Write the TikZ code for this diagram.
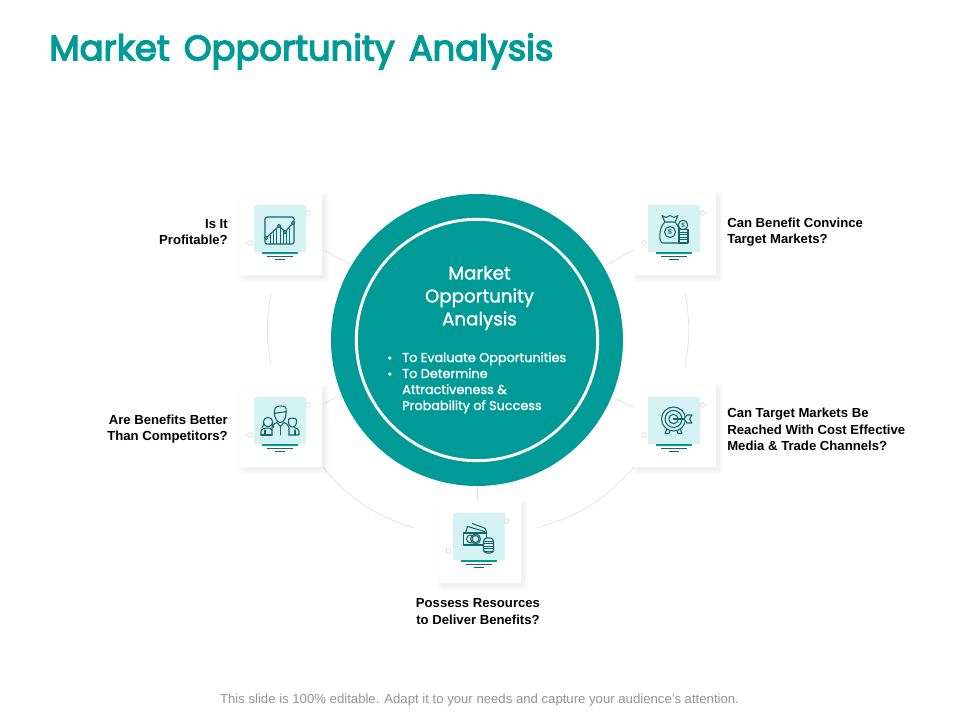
\documentclass[tikz,border=0pt]{standalone}
\usepackage{fontspec}
\setmainfont{Liberation Sans}
\newfontfamily\titlefont[FakeBold=4, WordSpace=1.5]{Poppins}
\newfontfamily\headfont[FakeBold=1.5]{Poppins}
\newfontfamily\pointfont[FakeBold=1.5]{Poppins}
\usetikzlibrary{positioning}

\definecolor{tealmain}{HTML}{009A97}
\definecolor{tealdark}{HTML}{14666A}
\definecolor{tealpale}{HTML}{D5F3F4}
\definecolor{linegrey}{HTML}{E2E4E4}
\tikzset{
    card/.style={fill=white, minimum width=61.5pt, minimum height=61.5pt, inner sep=0pt},
    cardshade/.style={fill=black, opacity=.01, rounded corners=2pt},
    tile/.style={fill=tealpale, minimum width=39pt, minimum height=35pt, inner sep=0pt},
    question/.style={font=\bfseries\fontsize{9.85pt}{12.2pt}\selectfont, inner sep=0pt},
    link/.style={draw=linegrey, line width=.6pt},
    dot/.style={draw=black!18, fill=white, circle, minimum size=3.6pt, inner sep=0pt},
    glyph/.style={draw=tealdark, line width=.8pt, line join=round, line cap=round},
}
% three rules under each icon tile
\newcommand{\tilerules}{%
    \draw[tealmain, line width=1.2pt] (-18,24.5) -- (18,24.5);
    \draw[tealdark, line width=.6pt] (-13,28) -- (13,28);
    \draw[tealdark, line width=.9pt] (-5,31) -- (5,31);
}

\begin{document}
\begin{tikzpicture}[x=.75pt, y=-.75pt]
    \useasboundingbox (0,0) rectangle (960,720);

    \node[anchor=west, inner sep=0pt, text=tealmain, font=\titlefont\fontsize{26.5pt}{30pt}\selectfont] (title) at (49,51.5) {Market Opportunity Analysis};

    % arcs and spokes go under everything else
    \coordinate (hub) at (477,340);
    \coordinate (arcA) at (271,293);
    \coordinate (arcB) at (271,365);
    \coordinate (arcC) at (685,293);
    \coordinate (arcD) at (685,367);
    \coordinate (arcE) at (323,467);
    \coordinate (arcF) at (414,528);
    \coordinate (arcG) at (634,467);
    \coordinate (arcH) at (537,528);
    \coordinate (spokeA) at (323,250);
    \coordinate (spokeB) at (633,250);
    \coordinate (spokeC) at (323,404);
    \coordinate (spokeD) at (634,407);
    \draw[link] (arcA) to[bend right=10] (arcB);
    \draw[link] (arcC) to[bend left=10] (arcD);
    \draw[link] (arcE) to[bend right=16] (arcF);
    \draw[link] (arcG) to[bend left=16] (arcH);

    \foreach \name/\x/\y in {profit/281/234, convince/675/234, better/281/426, reach/675/426, resource/479.5/542} {
        \foreach \s in {0,1,...,4} {
            \fill[cardshade] (\x-41-\s+3,\y-41-\s+3) rectangle (\x+41+\s+3,\y+41+\s+3);
        }
        \node[card] (\name) at (\x,\y) {};
        \node[tile] (\name tile) at (\x-1,\y-5.5) {};
        \node[dot] (\name dotA) at (\x+27,\y-21) {};
        \node[dot] (\name dotB) at (\x-31,\y+9) {};
    }

    \node[circle, fill=tealmain, minimum size=219pt, inner sep=0pt] (outer) at (hub) {};
    \node[circle, draw=white, line width=2.2pt, minimum size=181pt, inner sep=0pt] (inner) at (hub) {};

    \draw[link] (spokeA) -- (outer.149);
    \draw[link] (spokeB) -- (outer.30);
    \draw[link] (spokeC) -- (outer.202);
    \draw[link] (spokeD) -- (outer.337);
    \draw[link] (outer.south) -- (resource.north -| outer.south);

    % centre text
    \node[align=center, text=white, inner sep=0pt, font=\headfont\fontsize{13.7pt}{17.2pt}\selectfont] (heading) at (479.5,298) {Market\\Opportunity\\Analysis};
    \node[anchor=north west, align=left, text=white, inner sep=0pt, font=\pointfont\fontsize{9.6pt}{12pt}\selectfont] (points) at (402,352) {To Evaluate Opportunities\\To Determine\\Attractiveness \&\\Probability of Success};
    \node[text=white, inner sep=0pt, font=\fontsize{9pt}{12pt}\selectfont, anchor=base] (bulletA) at (390,362) {•};
    \node[text=white, inner sep=0pt, font=\fontsize{9pt}{12pt}\selectfont, anchor=base] (bulletB) at (390,378) {•};

    % questions
    \node[question, align=right, anchor=east] (profitq) at (228,232) {Is It\\Profitable?};
    \node[question, align=left, anchor=west] (convinceq) at (727,232) {Can Benefit Convince\\Target Markets?};
    \node[question, align=right, anchor=east] (betterq) at (228,429) {Are Benefits Better\\Than Competitors?};
    \node[question, align=left, anchor=west] (reachq) at (727,429.5) {Can Target Markets Be\\Reached With Cost Effective\\Media \& Trade Channels?};
    \node[question, align=center] (resourceq) at (478,611.5) {Possess Resources\\to Deliver Benefits?};

    \node[text=gray!85, inner sep=0pt, font=\fontsize{9.87pt}{11pt}\selectfont] (footer) at (479.5,700) {This slide is 100\% editable. Adapt it to your needs and capture your audience's attention.};

    % chart icon
    \begin{scope}[shift={(profittile.center)}]
        \tilerules
        \draw[glyph, rounded corners=1.5] (-15,-11.5) rectangle (14,15.5);
        \foreach \bx/\bt in {-10/7, -7/4, -4/1, 0/-1, 3/1, 6/3, 9/0} {
            \draw[glyph, line width=.45pt] (\bx,\bt) -- (\bx,15.5);
        }
        \draw[glyph] (-14,9.5) -- (-1,-2.5) -- (5,3.5) -- (13,-5.5);
        \foreach \px/\py in {-14/9.5, -1/-2.5, 5/3.5, 13/-5.5} {
            \draw[glyph, fill=tealpale] (\px,\py) circle (1.7);
        }
    \end{scope}

    % money bag icon
    \begin{scope}[shift={(convincetile.center)}]
        \tilerules
        \draw[glyph] (-9,-6.5) -- (1,-6.5) .. controls (5,-3) and (6,3) .. (5,14.5) -- (-11,14.5) .. controls (-16,14.5) and (-15,-2) .. (-9,-6.5);
        \draw[glyph] (-9,-6.5) -- (-12,-13) -- (-8,-11) -- (-4,-13) -- (0,-11) -- (4,-13) -- (1,-6.5);
        \draw[glyph] (-4,3.5) circle (5.5);
        \node[text=tealdark, inner sep=0pt, font=\bfseries\fontsize{5.5pt}{6pt}\selectfont] (bagsign) at (-4,3.5) {\$};
        \draw[glyph, fill=tealpale] (9,-3.5) circle (4.7);
        \node[text=tealdark, inner sep=0pt, font=\bfseries\fontsize{4.5pt}{5pt}\selectfont] (coinsign) at (9,-3.5) {\$};
        \draw[glyph, fill=tealpale] (5,1) rectangle (14,14.5);
        \foreach \ly in {3.5, 6, 8.5, 11} {
            \draw[glyph, line width=.45pt] (5,\ly) -- (14,\ly);
        }
    \end{scope}

    % people icon
    \begin{scope}[shift={(bettertile.center)}]
        \tilerules
        \draw[glyph] (-5.5,-9) .. controls (-6,-14) and (-2,-14.5) .. (1,-14.5) .. controls (5,-14.5) and (7,-13) .. (6,-9) .. controls (6.5,-1) and (3,2) .. (0.5,2) .. controls (-2,2) and (-6,-1) .. (-5.5,-9);
        \draw[glyph] (-5.5,-7) .. controls (-2,-8) and (2,-8) .. (6,-9);
        \draw[glyph] (-8,14.5) -- (-8,7) .. controls (-8,4) and (-5,3) .. (-3,2) -- (0.5,6) -- (4,2) .. controls (6,3) and (9,4) .. (9,7) -- (9,14.5);
        \draw[glyph] (0.5,6) -- (0.5,14.5);
        \draw[glyph] (-12,1.5) circle (4.7);
        \draw[glyph] (-16.5,1.5) .. controls (-16.5,5) and (-17,6) .. (-18,7);
        \draw[glyph] (-7.5,1.5) .. controls (-7.5,5) and (-7,6) .. (-6.5,7);
        \draw[glyph] (-19,14.5) -- (-19,11) .. controls (-19,8.5) and (-16,7.5) .. (-12,7.5) .. controls (-10,7.5) and (-8,8.5) .. (-8,10);
        \draw[glyph] (-15,9.5) -- (-15,14.5) (-19,14.5) -- (-8,14.5);
        \draw[glyph] (8.5,-0.5) .. controls (8.5,-3) and (16.5,-3) .. (16.5,-0.5) -- (16.5,2) .. controls (16,5.5) and (14,6.5) .. (12.5,6.5) .. controls (11,6.5) and (9,5.5) .. (8.5,2) -- cycle;
        \draw[glyph] (9,14.5) -- (19,14.5) -- (19,10.5) .. controls (19,8.5) and (16,8) .. (14.5,7);
        \draw[glyph] (15,9.5) -- (15,14.5);
    \end{scope}

    % target icon
    \begin{scope}[shift={(reachtile.center)}]
        \tilerules
        \draw[glyph] (-7,8) -- (-9,13) -- (-5,13) -- (-3.5,9.5);
        \draw[glyph] (6,8) -- (8,13) -- (4,13) -- (2.5,9.5);
        \draw[glyph, fill=tealpale] (-0.5,-1.5) circle (12);
        \draw[glyph] (-0.5,-1.5) circle (8.5);
        \draw[glyph] (-0.5,-1.5) circle (4.7);
        \draw[glyph] (-0.5,-1.5) -- (12,-1.5);
        \draw[glyph, fill=tealpale] (10,-1.5) -- (13,-5.5) -- (18,-5.5) -- (15.5,-1.5) -- (18,2.5) -- (13,2.5) -- cycle;
    \end{scope}

    % cash icon
    \begin{scope}[shift={(resourcetile.center)}]
        \tilerules
        \draw[glyph] (-13,-3.5) -- (-11,-10) -- (6,-5) ;
        \draw[glyph] (-6,-13) -- (7,-8) -- (8,-3.5);
        \draw[glyph] (-15,-3.5) rectangle (8,8.5);
        \draw[glyph] (-3,2.5) circle (5);
        \draw[glyph] (-8,2.5) circle (4);
        \draw[glyph, fill=tealpale] (-3,2.5) circle (3.5);
        \draw[glyph, fill=tealpale, rounded corners=2.5] (5,1.5) rectangle (15,16.5);
        \foreach \ly in {4.5, 7, 9.5, 12, 14.5} {
            \draw[glyph, line width=.45pt] (5,\ly) -- (15,\ly);
        }
    \end{scope}
\end{tikzpicture}
\end{document}
